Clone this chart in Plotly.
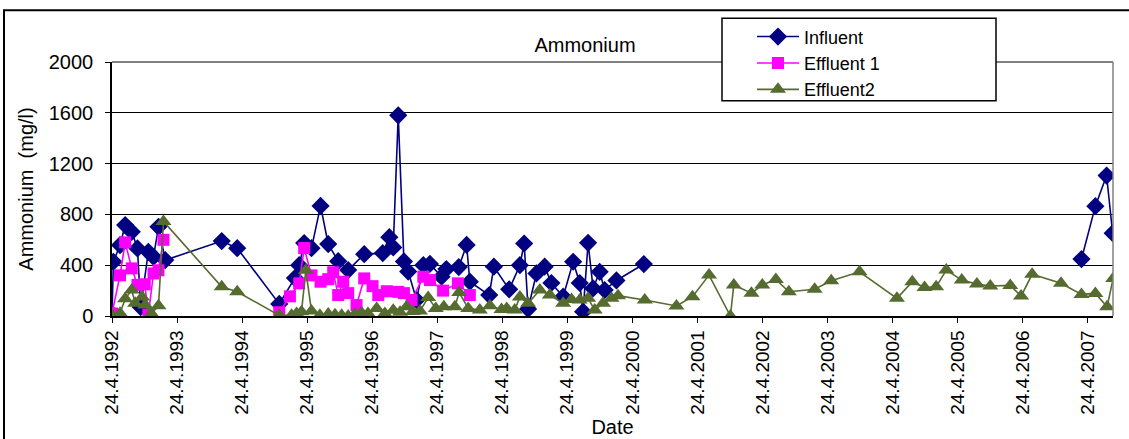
import plotly.graph_objects as go

# ---------------- data ----------------
influent_dates = ["1992-04-24","1992-05-02","1992-06-08","1992-07-07","1992-08-13","1992-09-14","1992-10-02",
    "1992-11-14","1992-12-13","1993-01-10","1993-02-17","1993-12-31","1994-03-28","1994-11-19","1995-02-15",
    "1995-03-11","1995-04-08","1995-05-19","1995-07-09","1995-08-21","1995-10-16","1995-12-11","1996-03-10",
    "1996-06-22","1996-07-29","1996-08-20","1996-09-17","1996-10-19","1996-11-12","1996-12-29","1997-02-05",
    "1997-03-14","1997-05-18","1997-06-14","1997-08-23","1997-10-06","1997-10-24","1998-02-10","1998-03-08",
    "1998-06-02","1998-08-01","1998-08-25","1998-09-16","1998-11-02","1998-12-18","1999-01-25","1999-04-01",
    "1999-05-27","1999-07-03","1999-07-22","1999-08-19","1999-09-16","1999-10-23","1999-11-20","2000-01-25",
    "2000-06-27","2003-06-01","2007-03-20","2007-06-06","2007-08-08","2007-09-11"]
influent_values = [15,427,558,716,663,532,70,505,466,702,
    440,590,534,95,299,400,574,534,867,566,
    432,362,487,495,621,540,1580,430,350,126,
    400,410,309,370,385,560,270,165,388,210,
    400,571,55,335,388,260,152,427,260,34,
    576,217,348,204,280,409,None,448,865,1106,
    652]

effluent1_dates = ["1992-04-24","1992-06-08","1992-07-07","1992-08-13","1992-09-14","1992-10-25","1992-11-14",
    "1992-12-13","1993-01-10","1993-02-07","1994-01-01","1994-11-19","1995-01-18","1995-03-11","1995-04-08",
    "1995-05-19","1995-07-09","1995-08-21","1995-09-18","1995-10-16","1995-11-13","1995-12-11","1996-01-27",
    "1996-03-10","1996-04-26","1996-05-28","1996-07-15","1996-09-17","1996-10-19","1996-12-01","1997-02-05",
    "1997-03-14","1997-05-27","1997-08-18","1997-10-24"]
effluent1_values = [20,320,580,375,245,250,10,335,360,600,
    None,30,155,257,535,320,270,290,345,165,270,180,86,296,235,165,195,190,180,126,309,283,200,257,165]

effluent2_dates = ["1992-04-24","1992-06-08","1992-07-07","1992-08-13","1992-09-01","1992-10-10","1992-10-28",
    "1992-12-01","1993-01-10","1993-02-07","1993-12-31","1994-03-28","1994-11-19","1995-01-27","1995-02-24",
    "1995-03-24","1995-04-17","1995-05-19","1995-07-05","1995-08-21","1995-09-28","1995-11-04","1995-12-11",
    "1996-01-18","1996-02-24","1996-03-31","1996-05-19","1996-07-04","1996-08-20","1996-09-27","1996-11-03",
    "1996-12-08","1997-01-17","1997-03-04","1997-04-16","1997-05-31","1997-08-01","1997-08-25","1997-10-15",
    "1997-12-19","1998-02-14","1998-04-20","1998-05-19","1998-07-03","1998-08-01","1998-09-16","1998-11-21",
    "1999-01-16","1999-04-01","1999-05-18","1999-07-03","1999-08-19","1999-09-25","1999-11-11","1999-12-28",
    "2000-02-03","2000-07-02","2000-12-27","2001-03-27","2001-06-28","2001-10-26","2001-11-14","2002-02-21",
    "2002-04-23","2002-07-08","2002-09-19","2003-02-11","2003-05-15","2003-10-21","2004-05-18","2004-08-12",
    "2004-10-20","2004-12-24","2005-02-19","2005-05-17","2005-08-10","2005-10-24","2006-02-13","2006-04-15",
    "2006-06-16","2006-11-25","2007-03-20","2007-06-06","2007-08-11","2007-09-14"]
effluent2_values = [8,22,135,204,100,150,86,20,80,745,
    230,191,5,5,20,34,360,40,5,15,
    10,5,0,15,25,20,60,20,45,30,
    73,35,40,145,60,73,73,185,60,47,
    80,52,60,47,150,100,204,165,100,130,
    126,139,47,100,139,160,126,79,152,322,
    0,244,180,244,288,191,210,277,348,139,
    270,225,230,362,283,251,236,241,157,328,
    257,170,178,73,296]

tick_dates = ["1992-04-24","1993-04-24","1994-04-24","1995-04-24","1996-04-24","1997-04-24","1998-04-24",
    "1999-04-24","2000-04-24","2001-04-24","2002-04-24","2003-04-24","2004-04-24","2005-04-24",
    "2006-04-24","2007-04-24"]
tick_labels = ["24.4.1992","24.4.1993","24.4.1994","24.4.1995","24.4.1996","24.4.1997","24.4.1998",
    "24.4.1999","24.4.2000","24.4.2001","24.4.2002","24.4.2003","24.4.2004","24.4.2005",
    "24.4.2006","24.4.2007"]
y_ticks = [0, 400, 800, 1200, 1600, 2000]

FONT = "Liberation Sans, Arial, sans-serif"

fig = go.Figure()
fig.add_trace(go.Scatter(x=influent_dates, y=influent_values, name="Influent", mode="lines+markers",
    line=dict(color="#000080", width=1.6), marker=dict(symbol="diamond", size=14, color="#000080"),
    connectgaps=False))
fig.add_trace(go.Scatter(x=effluent1_dates, y=effluent1_values, name="Effluent 1", mode="lines+markers",
    line=dict(color="#FF00FF", width=1.6), marker=dict(symbol="square", size=12, color="#FF00FF"),
    connectgaps=False))
fig.add_trace(go.Scatter(x=effluent2_dates, y=effluent2_values, name="Effluent2", mode="lines+markers",
    line=dict(color="#556B2F", width=1.6), marker=dict(symbol="triangle-up", size=14, color="#556B2F")))

def px_x(p):
    return (p - 112) / 1001.0

def px_y(p):
    return (316 - p) / 254.3

shapes = [
    # outer chart border
    dict(type="rect", xref="paper", yref="paper", x0=px_x(4), x1=px_x(1160), y0=px_y(470), y1=px_y(10),
         line=dict(color="black", width=2), fillcolor="rgba(0,0,0,0)", layer="below"),
    # grey top / right plot-area border
    dict(type="line", xref="paper", yref="paper", x0=0, x1=1, y0=1, y1=1, line=dict(color="#808080", width=2)),
    dict(type="line", xref="paper", yref="paper", x0=1, x1=1, y0=0, y1=1, line=dict(color="#808080", width=1.5)),
    # legend box
    dict(type="rect", xref="paper", yref="paper", x0=px_x(722), x1=px_x(996), y0=px_y(100.5), y1=px_y(18),
         line=dict(color="black", width=1.5), fillcolor="white", layer="above"),
]

fig.update_layout(
    width=1129, height=439,
    margin=dict(l=112, r=16, t=62, b=123),
    paper_bgcolor="white", plot_bgcolor="white",
    font=dict(family=FONT, size=19, color="black"),
    title=dict(text="Ammonium", x=px_x(585), xref="paper", xanchor="center",
               y=1 - 45 / 439, yref="container", yanchor="middle", font=dict(size=20)),
    showlegend=True,
    legend=dict(x=px_x(752), y=px_y(18), xanchor="left", yanchor="top", bgcolor="rgba(0,0,0,0)",
                borderwidth=0, font=dict(size=18), tracegroupgap=0, itemwidth=42),
    shapes=shapes,
    xaxis=dict(type="date", range=["1992-04-24", "2007-09-13"], tickmode="array",
               tickvals=tick_dates, ticktext=tick_labels, tickangle=-90, ticks="outside", ticklen=5,
               tickcolor="black", showline=True, linecolor="black", linewidth=1.5, showgrid=False,
               zeroline=False, tickfont=dict(size=19), automargin=False,
               title=dict(text="Date", standoff=6, font=dict(size=20))),
    yaxis=dict(range=[0, 2000], tickmode="array", tickvals=y_ticks, ticks="outside", ticklen=5,
               tickcolor="black", showline=True, linecolor="black", linewidth=1.5, showgrid=True,
               gridcolor="black", gridwidth=1, zeroline=False, tickfont=dict(size=20),
               ticklabelstandoff=8, automargin=False,
               title=dict(text="Ammonium  (mg/l)", standoff=10, font=dict(size=20))),
)

fig.write_html("out.html")
